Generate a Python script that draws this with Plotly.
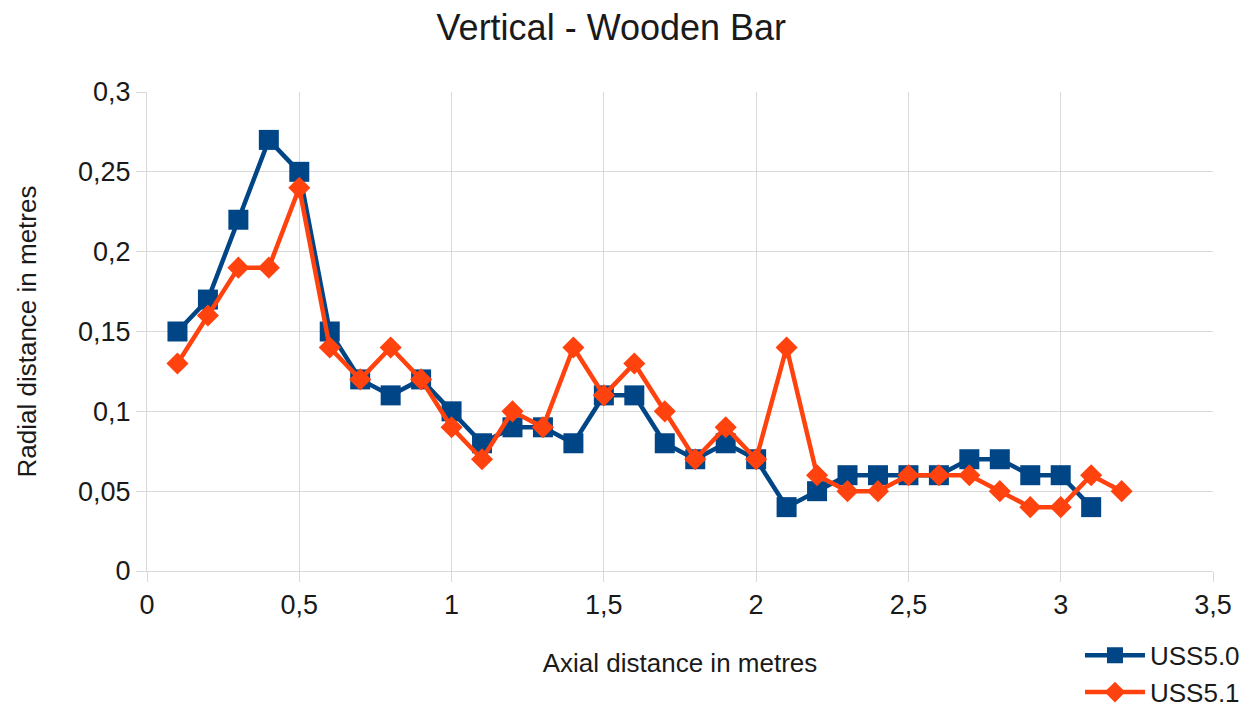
import plotly.graph_objects as go

x_uss50 = [0.1, 0.2, 0.3, 0.4, 0.5, 0.6, 0.7, 0.8, 0.9, 1.0, 1.1, 1.2, 1.3, 1.4, 1.5, 1.6,
           1.7, 1.8, 1.9, 2.0, 2.1, 2.2, 2.3, 2.4, 2.5, 2.6, 2.7, 2.8, 2.9, 3.0, 3.1]
y_uss50 = [0.15, 0.17, 0.22, 0.27, 0.25, 0.15, 0.12, 0.11, 0.12, 0.10, 0.08, 0.09, 0.09, 0.08, 0.11, 0.11,
           0.08, 0.07, 0.08, 0.07, 0.04, 0.05, 0.06, 0.06, 0.06, 0.06, 0.07, 0.07, 0.06, 0.06, 0.04]

x_uss51 = [0.1, 0.2, 0.3, 0.4, 0.5, 0.6, 0.7, 0.8, 0.9, 1.0, 1.1, 1.2, 1.3, 1.4, 1.5, 1.6,
           1.7, 1.8, 1.9, 2.0, 2.1, 2.2, 2.3, 2.4, 2.5, 2.6, 2.7, 2.8, 2.9, 3.0, 3.1, 3.2]
y_uss51 = [0.13, 0.16, 0.19, 0.19, 0.24, 0.14, 0.12, 0.14, 0.12, 0.09, 0.07, 0.10, 0.09, 0.14, 0.11, 0.13,
           0.10, 0.07, 0.09, 0.07, 0.14, 0.06, 0.05, 0.05, 0.06, 0.06, 0.06, 0.05, 0.04, 0.04, 0.06, 0.05]

TEXT = "#1a1a1a"

fig = go.Figure()
fig.add_trace(go.Scatter(
    x=x_uss50, y=y_uss50, name="USS5.0", mode="lines+markers",
    line=dict(color="#004586", width=4.5),
    marker=dict(symbol="square", size=20, color="#004586"),
))
fig.add_trace(go.Scatter(
    x=x_uss51, y=y_uss51, name="USS5.1", mode="lines+markers",
    line=dict(color="#ff420e", width=4.5),
    marker=dict(symbol="diamond", size=17, color="#ff420e"),
))

fig.update_layout(
    width=1244, height=702,
    paper_bgcolor="white", plot_bgcolor="white",
    separators=", ",
    font=dict(family="Liberation Sans, Arial, sans-serif", color=TEXT),
    title=dict(text="Vertical - Wooden Bar", x=0.485, xanchor="center", y=0.972, yanchor="middle",
               font=dict(size=36, color=TEXT)),
    margin=dict(l=139, r=39, t=84, b=139, autoexpand=False),
    showlegend=True,
    legend=dict(x=1.03, xanchor="right", y=-0.127, yanchor="top",
                font=dict(size=26, color=TEXT), bgcolor="rgba(0,0,0,0)",
                itemwidth=60, tracegroupgap=0),
    xaxis=dict(
        range=[0, 3.5], dtick=0.5, tick0=0,
        showgrid=True, gridcolor="#d9d9d9", gridwidth=1,
        zeroline=False, showline=True, linecolor="#d9d9d9",
        ticks="outside", ticklen=10, tickcolor="#d9d9d9",
        tickfont=dict(size=27, color=TEXT),
        title=dict(text="Axial distance in metres", font=dict(size=26, color=TEXT), standoff=34),
    ),
    yaxis=dict(
        range=[0, 0.3], dtick=0.05, tick0=0,
        showgrid=True, gridcolor="#d9d9d9", gridwidth=1,
        zeroline=False, showline=True, linecolor="#d9d9d9",
        ticks="outside", ticklen=10, tickcolor="#d9d9d9",
        tickfont=dict(size=27, color=TEXT),
        title=dict(text="Radial distance in metres", font=dict(size=26, color=TEXT), standoff=33),
    ),
)

fig.write_html("out.html")
